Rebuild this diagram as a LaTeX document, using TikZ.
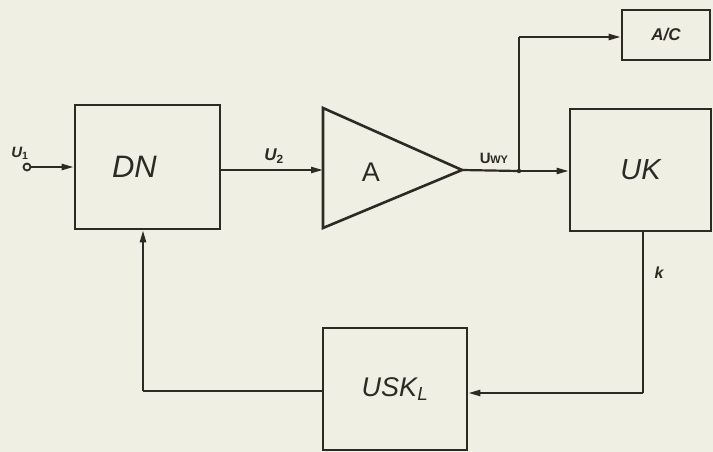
\documentclass[tikz,border=0pt]{standalone}
\usepackage{fontspec}
\setmainfont{Liberation Sans}
\usetikzlibrary{arrows.meta}
\definecolor{paper}{RGB}{240,239,228}
\definecolor{ink}{RGB}{45,42,38}
\begin{document}
\begin{tikzpicture}[x=1pt,y=-1pt,
  blk/.style={draw=ink,line width=2.6pt,rectangle,inner sep=0pt,text=ink},
  con/.style={draw=ink,line width=2.2pt},
  arr/.style={con,-{Stealth[length=12pt,width=6pt,inset=0pt]}},
  lbl/.style={text=ink,inner sep=0pt,font=\itshape\bfseries}
]
\fill[paper] (0,0) rectangle (713,452);
\useasboundingbox (0,0) rectangle (713,452);

% blocks
\node[blk,minimum width=145pt,minimum height=124pt,font=\itshape\fontsize{31}{31}\selectfont] (dn) at (147.5,167) {\raisebox{-2pt}{DN}\kern26pt\null};
\node[blk,minimum width=141pt,minimum height=122pt,font=\itshape\fontsize{29}{29}\selectfont] (uk) at (640.5,170) {UK};
\node[blk,minimum width=88pt,minimum height=50pt,font=\itshape\bfseries\fontsize{17}{17}\selectfont] (ac) at (666,35) {A/C};
\node[blk,minimum width=144pt,minimum height=122pt,font=\itshape\fontsize{27}{27}\selectfont] (usk) at (395,389) {USK$_{\mathit{L}}$};

% amplifier triangle
\coordinate (ain) at (323,170);
\coordinate (aout) at (462,170);
\draw[draw=ink,line width=2.6pt,line join=miter] (323,108) -- (aout) -- (323,228) -- cycle;
\node[text=ink,font=\fontsize{27}{27}\selectfont] (alab) at (371,172) {A};

% input terminal
\node[circle,draw=ink,line width=1.8pt,fill=paper,minimum size=7pt,inner sep=0pt] (in) at (27,167) {};

% junction
\coordinate (j) at (519,171);
\coordinate (jt) at (519,37);
\coordinate (rb) at (643,393);
\coordinate (lb) at (143,391);
\fill[ink] (j) circle (2.2pt);

% connectors
\draw[arr] (in.east) -- (dn.west |- in.east);
\draw[arr] (dn.east |- ain) -- (ain);
\draw[con] (aout) -- (j);
\draw[arr] (j) -- (uk.west |- j);
\draw[con] (j) -- (jt);
\draw[arr] (jt) -- (ac.west |- jt);
\draw[con] (uk.south -| rb) -- (rb);
\draw[arr] (rb) -- (usk.east |- rb);
\draw[con] (usk.west |- lb) -- (lb);
\draw[arr] (lb) -- (dn.south -| lb);

% labels
\node[lbl,font=\itshape\bfseries\fontsize{15}{15}\selectfont] (u1) at (20,153) {U$_{\mathbf{1}}$};
\node[lbl,font=\itshape\bfseries\fontsize{17}{17}\selectfont] (u2) at (274,156) {U$_{\mathbf{2}}$};
\node[lbl,font=\bfseries\fontsize{15}{15}\selectfont] (uwy) at (494,158) {U\kern-0.5pt{\fontsize{11}{11}\selectfont WY}};
\node[lbl,font=\itshape\bfseries\fontsize{16}{16}\selectfont] (k) at (659,273) {k};
\end{tikzpicture}
\end{document}
